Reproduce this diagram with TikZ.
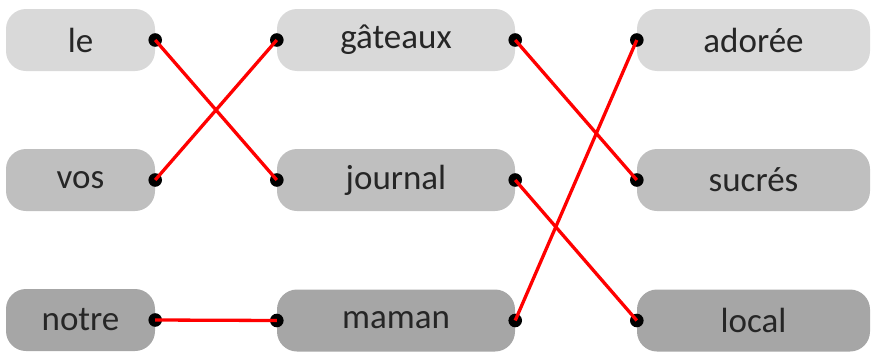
\documentclass[tikz,border=0pt]{standalone}
\usepackage{fontspec}
\setmainfont{Carlito}
\begin{document}
\begin{tikzpicture}[x=1pt,y=-1pt,
  wbox/.style={rounded corners=20pt, inner sep=0pt, minimum height=62pt, text=black!85, font=\fontsize{35}{38}\selectfont},
  r1/.style={wbox, fill=black!15},
  r2/.style={wbox, fill=black!25},
  r3/.style={wbox, fill=black!35},
  c1/.style={minimum width=149pt},
  c2/.style={minimum width=238pt},
  c3/.style={minimum width=233pt},
  link/.style={draw=red, line width=3.3pt},
  dotc/.style={fill=black}
]
\useasboundingbox (0,0) rectangle (872,351);
\node[r1,c1] (le) at (80.5,40) {le};
\node[r2,c1] (vos) at (80.5,180) {vos};
\node[r3,c1] (notre) at (80.5,320) {notre};
\node[r1,c2] (gat) at (396,40) {gâteaux};
\node[r2,c2] (jou) at (396,180) {journal};
\node[r3,c2] (mam) at (396,320.5) {maman};
\node[r1,c3] (ado) at (753.5,40) {adorée};
\node[r2,c3] (suc) at (753.5,180) {sucrés};
\node[r3,c3] (loc) at (753.5,320.5) {local};
\foreach \n in {le,vos,notre,gat,jou,mam}{\fill[dotc] (\n.east) circle [radius=6.8pt];}
\foreach \n in {gat,jou,mam,ado,suc,loc}{\fill[dotc] (\n.west) circle [radius=6.8pt];}
\draw[link] (le.east) -- (jou.west);
\draw[link] (vos.east) -- (gat.west);
\draw[link] (notre.east) -- (mam.west);
\draw[link] (gat.east) -- (suc.west);
\draw[link] (jou.east) -- (loc.west);
\draw[link] (mam.east) -- (ado.west);
\end{tikzpicture}
\end{document}
